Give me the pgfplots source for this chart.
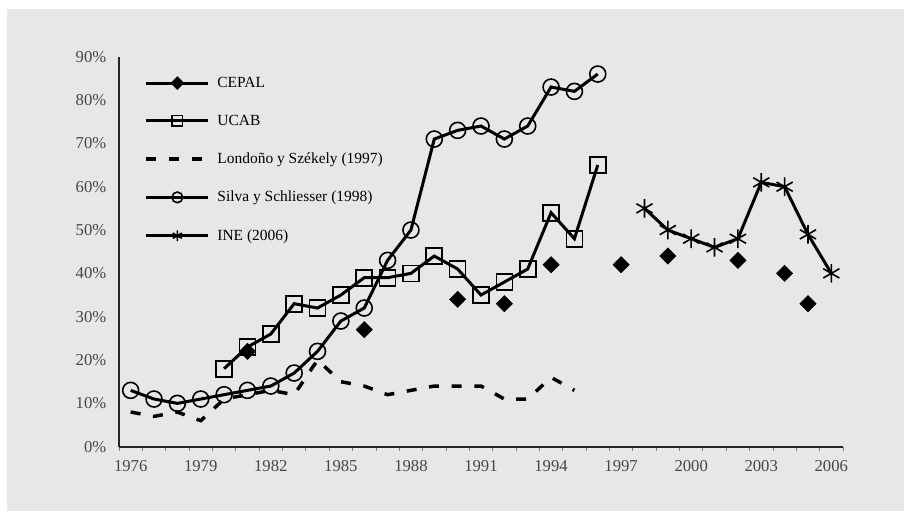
\documentclass[border=0pt]{standalone}
\usepackage{fontspec}
\setmainfont{Liberation Serif}
\usepackage{pgfplots}
\pgfplotsset{compat=1.18}
\definecolor{bg}{RGB}{230,231,233}
\definecolor{tickgray}{RGB}{70,70,70}
\begin{document}
\begin{tikzpicture}
\useasboundingbox (0,0) rectangle (678pt,383.25pt);
\fill[white] (0,0) rectangle (678pt,383.25pt);
\fill[bg] (5.25pt,0) rectangle (678pt,376.5pt);
\begin{axis}[
  at={(89.25pt,48.225pt)}, anchor=south west,
  scale only axis, width=543pt, height=292.5pt,
  xmin=1975.5, xmax=2006.5, ymin=0, ymax=90,
  axis lines=left, axis line style={line width=1.5pt, draw=black!85, -},
  xtick={1976,1979,...,2006},
  xticklabels={1976,1979,1982,1985,1988,1991,1994,1997,2000,2003,2006},
  minor xtick={1975.5,1976.5,...,2006.5},
  ytick={0,10,...,90},
  yticklabels={0\%,10\%,20\%,30\%,40\%,50\%,60\%,70\%,80\%,90\%},
  major tick length=0pt, minor tick length=3pt, tick align=outside,
  minor tick style={draw=black!50, line width=0.5pt},
  tick label style={font=\fontsize{12.5}{14}\selectfont, text=tickgray},
  xticklabel style={yshift=-7pt},
  yticklabel style={xshift=-6pt},
  legend style={at={(0,1)}, anchor=north west, xshift=19pt, yshift=-13pt,
    draw=none, fill=none, font=\fontsize{11.6}{13}\selectfont,
    row sep=15.2pt, column sep=3.5pt, inner sep=0pt},
  legend cell align=left,
  legend image code/.code={\draw[mark repeat=2,mark phase=2, mark size=4pt] plot coordinates {(0pt,0pt)(23.25pt,0pt)(46.5pt,0pt)};},
  clip=false,
]
\addplot[only marks, mark=square*, mark size=4.3pt, mark options={rotate=45, fill=black, draw=black},
  legend image code/.code={\draw[sharp plot, line width=2.25pt, black] (0pt,0pt) -- (46.5pt,0pt);
    \draw[sharp plot, mark=square*, mark size=3.4pt, mark options={rotate=45, fill=black}] plot coordinates {(23.25pt,0pt)};}]
  coordinates {(1981,22)(1986,27)(1990,34)(1992,33)(1994,42)(1997,42)(1999,44)(2002,43)(2004,40)(2005,33)};
\addlegendentry{CEPAL}
\addplot[black, line width=2.25pt, mark=square, mark size=6pt, mark options={line width=1.2pt, solid}]
  coordinates {(1980,18)(1981,23)(1982,26)(1983,33)(1984,32)(1985,35)(1986,39)(1987,39)(1988,40)(1989,44)(1990,41)(1991,35)(1992,38)(1993,41)(1994,54)(1995,48)(1996,65)};
\addlegendentry{UCAB}
\addplot[black, line width=2.6pt, dash pattern=on 7.5pt off 9.5pt, mark=none]
  coordinates {(1976,8)(1977,7)(1978,8)(1979,6)(1980,11)(1981,12)(1982,13)(1983,12)(1984,20)(1985,15)(1986,14)(1987,12)(1988,13)(1989,14)(1990,14)(1991,14)(1992,11)(1993,11)(1994,16)(1995,13)};
\addlegendentry{Londoño y Székely (1997)}
\addplot[black, line width=2.25pt, mark=o, mark size=6pt, mark options={line width=1.2pt, solid}]
  coordinates {(1976,13)(1977,11)(1978,10)(1979,11)(1980,12)(1981,13)(1982,14)(1983,17)(1984,22)(1985,29)(1986,32)(1987,43)(1988,50)(1989,71)(1990,73)(1991,74)(1992,71)(1993,74)(1994,83)(1995,82)(1996,86)};
\addlegendentry{Silva y Schliesser (1998)}
\addplot[black, line width=2.25pt, mark=asterisk, mark size=7pt, mark options={line width=1.2pt, solid}]
  coordinates {(1998,55)(1999,50)(2000,48)(2001,46)(2002,48)(2003,61)(2004,60)(2005,49)(2006,40)};
\addlegendentry{INE (2006)}
\end{axis}
\end{tikzpicture}
\end{document}
